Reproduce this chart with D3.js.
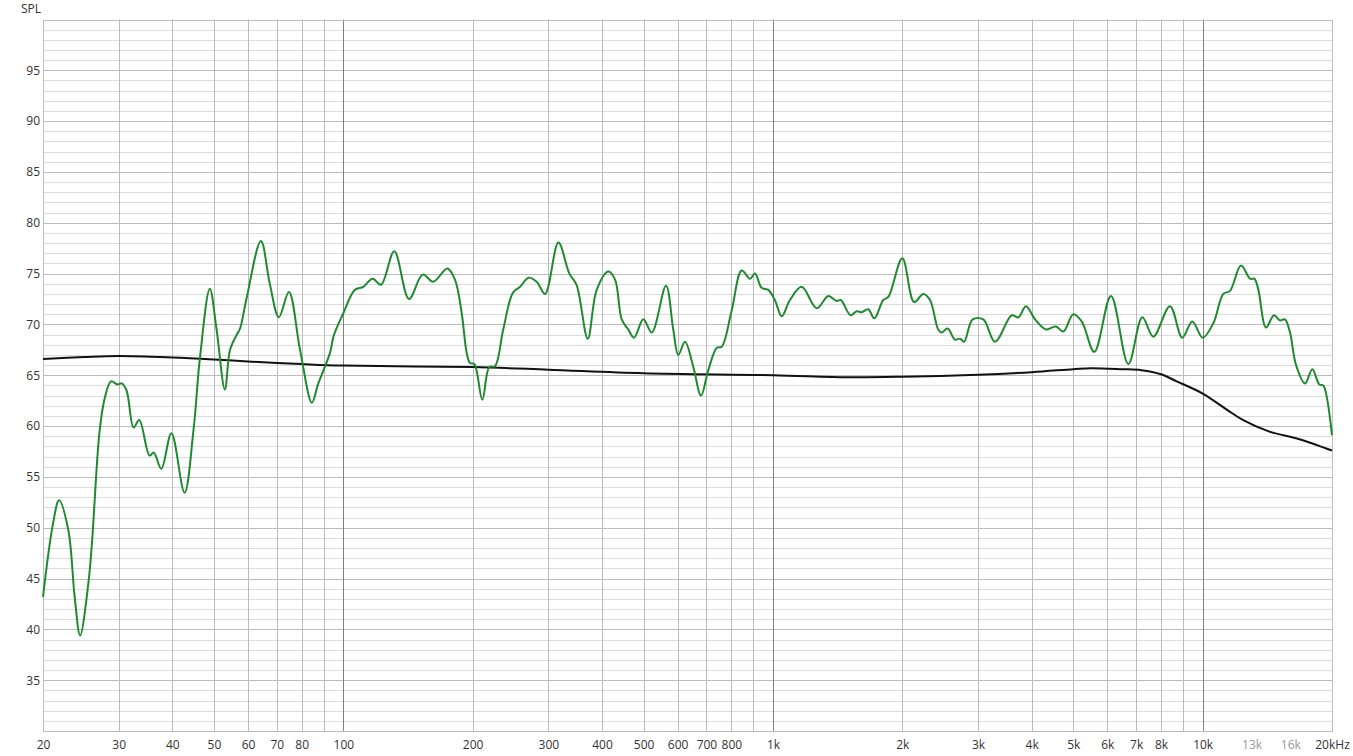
<!DOCTYPE html>
<html>
<head>
<meta charset="utf-8">
<script src="https://cdn.jsdelivr.net/npm/d3@7/dist/d3.min.js"></script>
<style>
  html, body { margin: 0; padding: 0; background: #fff; }
  svg { display: block; }
  text { font-family: "Open Sans", "Noto Sans", sans-serif; font-size: 12px; fill: #333; }
</style>
</head>
<body>
<svg id="chart" width="1353" height="756"></svg>
<script>
// ---- data ----
const measFreq = [20, 21.1, 21.8, 22.9, 23.7, 24.4, 25.5, 26.0, 27.1, 27.9, 28.8, 29.8, 30.5, 31.3, 32.5, 33.5, 35.4, 36.2, 37.7, 39.8,
  42.7, 44.8, 46.4, 48.9, 50.7, 53.0, 54.5, 56.5, 57.5, 59.5, 64.3, 67.5, 70.8, 74.7, 79.3, 84.5, 87.3, 93.1, 95, 100,
  106.4, 111.3, 117, 122.4, 131.4, 142.2, 153, 161.9, 174.6, 181.9, 188.6, 193.7, 197.2, 201.8, 210.6, 218.6, 225.4, 235.6, 248, 257.8,
  270, 281.8, 294.8, 316.6, 335.8, 349, 370.6, 388.8, 413.8, 429, 444.6, 460.4, 474.8, 499.2, 522.2, 563.6, 586, 602, 624, 652.6,
  680, 707, 740, 759.6, 801.6, 845.6, 884, 908, 941, 975, 1010, 1048, 1095, 1166, 1264, 1345, 1407, 1438, 1516, 1566,
  1609, 1666, 1721, 1806, 1855, 2000, 2130, 2238, 2320, 2424, 2470, 2550, 2652, 2724, 2784, 2916, 3086, 3286, 3594, 3724,
  3880, 4072, 4320, 4550, 4740, 5000, 5230, 5596, 6118, 6714, 7236, 7676, 8392, 8964, 9460, 10000, 10586, 11168, 11576, 12280,
  12892, 13192, 13478, 14044, 14656, 15136, 15546, 15968, 16496, 17312, 17998, 18682, 19092, 19440, 20000];
const measSpl = [43.2, 50.4, 52.7, 49.8, 43.2, 39.4, 44.5, 48.5, 59.6, 62.9, 64.4, 64.1, 64.2, 63.5, 59.85, 60.6, 57.1, 57.4, 55.8, 59.3,
  53.45, 59.6, 66.8, 73.5, 69.5, 63.6, 67.5, 69.0, 69.6, 72.5, 78.2, 73.9, 70.7, 73.2, 67.5, 62.3, 64.1, 67.2, 68.9, 71.1,
  73.4, 73.7, 74.5, 73.9, 77.2, 72.5, 74.9, 74.2, 75.5, 74.4, 71.1, 67.2, 66.2, 66.1, 62.6, 65.8, 65.9, 69.5, 73.1, 73.7,
  74.6, 74.2, 73.0, 78.05, 75.0, 73.9, 68.6, 73.4, 75.2, 74.4, 70.5, 69.5, 68.7, 70.5, 69.2, 73.8, 69.5, 67.0, 68.3, 65.8,
  63.0, 65.5, 67.7, 67.8, 71.4, 75.3, 74.5, 75.0, 73.6, 73.4, 72.4, 70.8, 72.4, 73.7, 71.6, 72.8, 72.3, 72.4, 70.9, 71.3,
  71.2, 71.5, 70.6, 72.4, 72.7, 76.5, 72.2, 73.0, 72.4, 69.5, 69.2, 69.6, 68.5, 68.6, 68.3, 70.5, 70.5, 68.3, 70.9, 70.7,
  71.8, 70.5, 69.5, 69.8, 69.3, 71.0, 70.3, 67.3, 72.8, 66.1, 70.7, 68.8, 71.8, 68.7, 70.3, 68.7, 70.1, 73.0, 73.3, 75.8,
  74.5, 74.5, 73.4, 69.7, 70.9, 70.4, 70.5, 69.2, 66.0, 64.2, 65.6, 64.1, 64.0, 62.9, 59.1];

const targetFreq = [20, 25, 30, 40, 50, 60, 80, 100, 200, 300, 500, 1000, 1500, 2000, 3000, 4000, 5000, 5500, 6500, 7200,
  8000, 8700, 10000, 11400, 12400, 14200, 16800, 19400, 20000];
const targetSpl = [66.6, 66.8, 66.9, 66.75, 66.55, 66.35, 66.1, 65.95, 65.8, 65.55, 65.2, 65.0, 64.8, 64.85, 65.05, 65.3, 65.6, 65.7, 65.6, 65.5,
  65.1, 64.4, 63.2, 61.6, 60.6, 59.5, 58.7, 57.8, 57.6];

const xTickValues = [20, 30, 40, 50, 60, 70, 80, 100, 200, 300, 400, 500, 600, 700, 800, 1000, 2000, 3000, 4000, 5000, 6000, 7000, 8000, 10000, 13000, 16000, 20000];
const xTickLabels = ["20", "30", "40", "50", "60", "70", "80", "100", "200", "300", "400", "500", "600", "700", "800", "1k", "2k", "3k", "4k", "5k", "6k", "7k", "8k", "10k", "13k", "16k", "20kHz"];
const xTickFaded = [13000, 16000];
const yTickValues = [35, 40, 45, 50, 55, 60, 65, 70, 75, 80, 85, 90, 95];
const yAxisTitle = "SPL";

// ---- layout ----
const plotL = 43, plotR = 1332, plotT = 19.5, plotB = 731;
const x = d3.scaleLog().domain([20, 20000]).range([plotL, plotR]);
const y = d3.scaleLinear().domain([30, 100]).range([plotB, plotT]);
const svg = d3.select("#chart");
const px = v => Math.round(v) + 0.5;

// vertical grid lines
const vLines = [];
[10, 100, 1000, 10000].forEach(dec => {
  for (let k = 1; k <= 9; k++) {
    const f = dec * k;
    if (f > 20 && f < 20000) vLines.push(f);
  }
});
const gGrid = svg.append("g");
d3.range(31, 100).forEach(v => {
  gGrid.append("line")
    .attr("x1", plotL).attr("x2", plotR)
    .attr("y1", px(y(v))).attr("y2", px(y(v)))
    .attr("stroke", v % 5 === 0 ? "#bcbcbc" : "#dcdcdc").attr("stroke-width", 1);
});
vLines.forEach(f => {
  const isDecade = (f === 100 || f === 1000 || f === 10000);
  const col = isDecade ? "#808080" : (f > 10000 ? "#dcdcdc" : "#bcbcbc");
  gGrid.append("line")
    .attr("x1", px(x(f))).attr("x2", px(x(f)))
    .attr("y1", plotT).attr("y2", plotB)
    .attr("stroke", col).attr("stroke-width", 1);
});
gGrid.append("rect")
  .attr("x", px(plotL)).attr("y", px(plotT))
  .attr("width", Math.round(plotR) - Math.round(plotL)).attr("height", Math.round(plotB) - Math.round(plotT))
  .attr("fill", "none").attr("stroke", "#bcbcbc").attr("stroke-width", 1);

// axes via d3
const xAxis = d3.axisBottom(x).tickValues(xTickValues)
  .tickFormat((d, i) => xTickLabels[i]).tickSize(0).tickPadding(8);
const gx = svg.append("g").attr("transform", `translate(0,${plotB})`).call(xAxis);
gx.select(".domain").remove();
gx.selectAll("text").style("font-size", "12px").style("font-family", "'Open Sans', 'Noto Sans', sans-serif")
  .style("fill", d => xTickFaded.includes(d) ? "#9a9a9a" : "#333")
  .attr("dy", "0.71em").attr("y", 9);

const yAxis = d3.axisLeft(y).tickValues(yTickValues).tickSize(0).tickPadding(3);
const gy = svg.append("g").attr("transform", `translate(${plotL},0)`).call(yAxis);
gy.select(".domain").remove();
gy.selectAll("text").style("font-size", "12px").style("font-family", "'Open Sans', 'Noto Sans', sans-serif").style("fill", "#333");

svg.append("text").attr("x", 41).attr("y", 9).attr("dy", "0.35em")
  .attr("text-anchor", "end").text(yAxisTitle);

// curves
const line = d3.line().x(d => x(d[0])).y(d => y(d[1])).curve(d3.curveCatmullRom.alpha(0.5));
svg.append("path")
  .datum(targetFreq.map((f, i) => [f, targetSpl[i]]))
  .attr("d", line).attr("fill", "none").attr("stroke", "#111").attr("stroke-width", 2);
svg.append("path")
  .datum(measFreq.map((f, i) => [f, measSpl[i]]))
  .attr("d", line).attr("fill", "none").attr("stroke", "#1f8a2f").attr("stroke-width", 2);
</script>
</body>
</html>
